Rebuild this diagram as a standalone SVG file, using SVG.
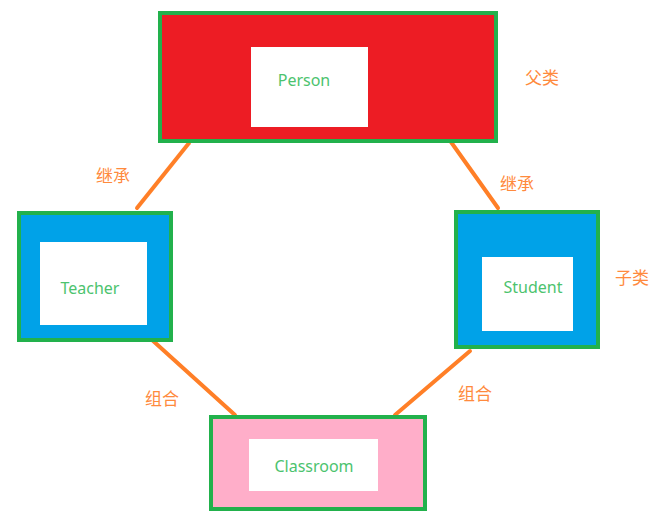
<svg xmlns="http://www.w3.org/2000/svg" width="668" height="518" viewBox="0 0 668 518">
<style>
.box{stroke:#22b14c;stroke-width:4}
.inner{fill:#ffffff}
.name{font-family:"Noto Sans","Open Sans",sans-serif;font-size:16px;fill:#4cc36e;text-anchor:middle}
.lbl{font-family:"Noto Sans CJK SC",sans-serif;font-size:17px;fill:#ff8a3d}
.conn{stroke:#ff7f27;stroke-width:4;stroke-linecap:round}
</style>
<rect width="668" height="518" fill="#ffffff"/>
<g id="connectors">
<line class="conn" x1="189" y1="143" x2="137" y2="208"/>
<line class="conn" x1="451" y1="142" x2="498" y2="208"/>
<line class="conn" x1="151" y1="339" x2="235" y2="415"/>
<line class="conn" x1="470" y1="351" x2="395" y2="415"/>
<text class="lbl" x="96" y="182">继承</text>
<text class="lbl" x="500" y="190">继承</text>
<text class="lbl" x="145" y="405">组合</text>
<text class="lbl" x="458" y="400">组合</text>
</g>
<g id="person">
<rect class="box" x="160" y="13" width="336" height="128" fill="#ed1c24"/>
<rect class="inner" x="251" y="47" width="117" height="80"/>
<text class="name" x="304" y="86">Person</text>
</g>
<g id="teacher">
<rect class="box" x="19" y="213" width="152" height="127" fill="#00a2e8"/>
<rect class="inner" x="40" y="242" width="107" height="83"/>
<text class="name" x="90" y="294">Teacher</text>
</g>
<g id="student">
<rect class="box" x="456" y="212" width="142" height="135" fill="#00a2e8"/>
<rect class="inner" x="482" y="257" width="91" height="74"/>
<text class="name" x="533" y="293">Student</text>
</g>
<g id="classroom">
<rect class="box" x="211" y="417" width="214" height="92" fill="#ffaec9"/>
<rect class="inner" x="249" y="439" width="129" height="52"/>
<text class="name" x="314" y="472">Classroom</text>
</g>
<text class="lbl" x="525" y="84">父类</text>
<text class="lbl" x="615" y="284">子类</text>
</svg>
